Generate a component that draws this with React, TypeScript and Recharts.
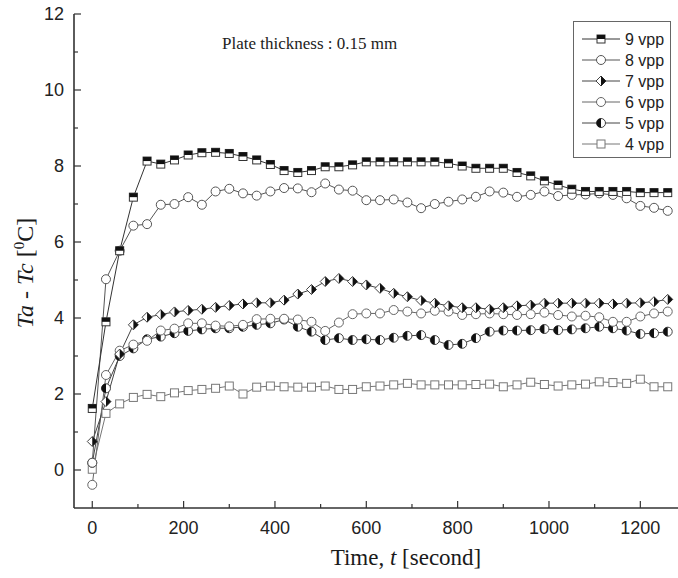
import React from "react";
import { LineChart, Line, XAxis, YAxis, Legend } from "recharts";

// time in seconds, one reading every 30 s
const times = [
  0, 30, 60, 90, 120, 150, 180, 210, 240, 270, 300, 330, 360, 390, 420, 450, 480, 510, 540, 570, 600, 630,
  660, 690, 720, 750, 780, 810, 840, 870, 900, 930, 960, 990, 1020, 1050, 1080, 1110, 1140, 1170, 1200,
  1230, 1260,
];

// Ta - Tc readings per drive voltage
const vpp9 = [
  1.62, 3.9, 5.77, 7.18, 8.13, 8.05, 8.16, 8.29, 8.35, 8.36, 8.33, 8.25, 8.16, 8.04, 7.88, 7.83, 7.88, 7.98,
  7.98, 8.03, 8.11, 8.11, 8.11, 8.11, 8.11, 8.11, 8.07, 8.0, 7.94, 7.94, 7.94, 7.83, 7.74, 7.61, 7.5, 7.39,
  7.33, 7.33, 7.33, 7.33, 7.3, 7.3, 7.3,
];
const vpp8 = [
  0.19, 5.02, 5.77, 6.43, 6.47, 6.98, 7.0, 7.18, 6.98, 7.33, 7.4, 7.28, 7.22, 7.33, 7.42, 7.41, 7.31, 7.54,
  7.38, 7.35, 7.1, 7.1, 7.12, 7.04, 6.89, 7.0, 7.06, 7.12, 7.19, 7.33, 7.3, 7.19, 7.24, 7.33, 7.21, 7.24,
  7.25, 7.28, 7.24, 7.15, 6.95, 6.9, 6.82,
];
const vpp7 = [
  0.75, 1.8, 3.05, 3.82, 4.02, 4.09, 4.16, 4.2, 4.23, 4.28, 4.33, 4.37, 4.4, 4.4, 4.47, 4.63, 4.75, 4.96,
  5.04, 4.96, 4.87, 4.78, 4.65, 4.56, 4.46, 4.39, 4.32, 4.27, 4.27, 4.23, 4.27, 4.32, 4.34, 4.39, 4.39, 4.39,
  4.39, 4.39, 4.37, 4.39, 4.4, 4.43, 4.49,
];
const vpp6 = [
  -0.39, 2.5, 3.14, 3.3, 3.4, 3.67, 3.72, 3.86, 3.86, 3.8, 3.78, 3.82, 3.97, 3.98, 3.98, 3.96, 3.9, 3.66,
  3.88, 4.1, 4.12, 4.12, 4.21, 4.17, 4.12, 4.19, 4.17, 4.08, 4.1, 4.12, 4.1, 4.08, 4.1, 4.14, 4.08, 4.04,
  4.06, 4.02, 3.9, 3.9, 4.04, 4.12, 4.17,
];
const vpp5 = [
  0.19, 2.15, 3.0, 3.2, 3.44, 3.51, 3.6, 3.66, 3.7, 3.73, 3.73, 3.77, 3.82, 3.86, 3.96, 3.77, 3.64, 3.42,
  3.47, 3.42, 3.44, 3.42, 3.48, 3.53, 3.55, 3.42, 3.29, 3.32, 3.47, 3.64, 3.67, 3.67, 3.68, 3.71, 3.68, 3.7,
  3.73, 3.77, 3.73, 3.67, 3.58, 3.6, 3.64,
];
const vpp4 = [
  0.02, 1.49, 1.74, 1.91, 1.99, 1.93, 2.03, 2.09, 2.12, 2.15, 2.21, 2.0, 2.18, 2.21, 2.19, 2.18, 2.18, 2.21,
  2.12, 2.12, 2.19, 2.21, 2.24, 2.28, 2.24, 2.24, 2.24, 2.24, 2.25, 2.26, 2.19, 2.24, 2.31, 2.25, 2.21, 2.24,
  2.26, 2.32, 2.3, 2.28, 2.39, 2.19, 2.19,
];

const xTicks = [0, 100, 200, 300, 400, 500, 600, 700, 800, 900, 1000, 1100, 1200];
const yTicks = [0, 1, 2, 3, 4, 5, 6, 7, 8, 9, 10, 11, 12];

type Shape = "halfSquare" | "circle" | "halfDiamond" | "halfCircle" | "square";

const series: { key: string; name: string; values: number[]; shape: Shape; color: string }[] = [
  { key: "v9", name: "9 vpp", values: vpp9, shape: "halfSquare", color: "#333" },
  { key: "v8", name: "8 vpp", values: vpp8, shape: "circle", color: "#555" },
  { key: "v7", name: "7 vpp", values: vpp7, shape: "halfDiamond", color: "#444" },
  { key: "v6", name: "6 vpp", values: vpp6, shape: "circle", color: "#666" },
  { key: "v5", name: "5 vpp", values: vpp5, shape: "halfCircle", color: "#444" },
  { key: "v4", name: "4 vpp", values: vpp4, shape: "square", color: "#777" },
];

const rows = times.map((t, i) => {
  const r: Record<string, number> = { t };
  series.forEach((s) => (r[s.key] = s.values[i]));
  return r;
});

const SANS = "'Liberation Sans', Arial, sans-serif";
const SERIF = "'Liberation Serif', 'Times New Roman', serif";

function Marker({ cx, cy, shape, color }: { cx: number; cy: number; shape: Shape; color: string }) {
  if (cx == null || cy == null || isNaN(cx) || isNaN(cy)) return null;
  const sw = 1;
  if (shape === "halfSquare") {
    const s = 4;
    return (
      <g>
        <rect x={cx - s} y={cy - s} width={2 * s} height={2 * s} fill="#fff" stroke={color} strokeWidth={sw} />
        <rect x={cx - s} y={cy - s} width={2 * s} height={s} fill="#111" />
      </g>
    );
  }
  if (shape === "square") {
    const s = 4;
    return <rect x={cx - s} y={cy - s} width={2 * s} height={2 * s} fill="#fff" stroke={color} strokeWidth={sw} />;
  }
  if (shape === "halfDiamond") {
    const r = 5;
    return (
      <g>
        <polygon
          points={`${cx},${cy - r} ${cx + r},${cy} ${cx},${cy + r} ${cx - r},${cy}`}
          fill="#fff"
          stroke={color}
          strokeWidth={sw}
        />
        <polygon points={`${cx},${cy - r} ${cx + r},${cy} ${cx},${cy + r}`} fill="#111" />
      </g>
    );
  }
  const r = 4.5;
  if (shape === "halfCircle") {
    return (
      <g>
        <circle cx={cx} cy={cy} r={r} fill="#fff" stroke={color} strokeWidth={sw} />
        <path d={`M${cx},${cy - r} A${r},${r} 0 0 0 ${cx},${cy + r} Z`} fill="#111" />
      </g>
    );
  }
  return <circle cx={cx} cy={cy} r={r} fill="#fff" stroke={color} strokeWidth={sw} />;
}

function XTick(props: any) {
  const { x, y, payload } = props;
  const v = payload.value;
  const major = v % 200 === 0;
  return (
    <g>
      <line x1={x} x2={x} y1={y} y2={y - (major ? 7 : 4)} stroke="#333" strokeWidth={1.2} />
      {major && (
        <text x={x} y={y + 26} textAnchor="middle" fontSize={18} fontFamily={SANS} fill="#222">
          {v}
        </text>
      )}
    </g>
  );
}

function YTick(props: any) {
  const { x, y, payload } = props;
  const v = payload.value;
  const major = v % 2 === 0;
  return (
    <g>
      <line x1={x} x2={x + (major ? 7 : 4)} y1={y} y2={y} stroke="#333" strokeWidth={1.2} />
      {major && (
        <text x={x - 10} y={y + 6} textAnchor="end" fontSize={18} fontFamily={SANS} fill="#222">
          {v}
        </text>
      )}
    </g>
  );
}

function XTitle(props: any) {
  const vb = props.viewBox;
  return (
    <text x={vb.x + vb.width / 2 + 26} y={vb.y + 57} textAnchor="middle" fontSize={23} fontFamily={SERIF} fill="#1a1a1a">
      Time, <tspan fontStyle="italic">t</tspan> [second]
    </text>
  );
}

function YTitle(props: any) {
  const vb = props.viewBox;
  const x = vb.x + 33;
  const y = vb.y + vb.height / 2 + 12;
  return (
    <text
      x={x}
      y={y}
      transform={`rotate(-90, ${x}, ${y})`}
      textAnchor="middle"
      fontSize={24}
      fontFamily={SERIF}
      fill="#1a1a1a"
      stroke="none"
    >
      <tspan fontStyle="italic" fill="#1a1a1a">Ta</tspan>
      <tspan fill="#1a1a1a"> - </tspan>
      <tspan fontStyle="italic" fill="#1a1a1a">Tc</tspan>
      <tspan fill="#1a1a1a"> [</tspan>
      <tspan fontSize={15} dy={-9} fill="#1a1a1a">
        0
      </tspan>
      <tspan dy={9} fill="#1a1a1a">C]</tspan>
    </text>
  );
}

function LegendBox() {
  return (
    <div style={{ border: "1px solid #666", background: "#fff", width: 98, height: 137, boxSizing: "border-box" }}>
      <svg width={96} height={135}>
        {series.map((s, i) => {
          const cy = 17 + 21 * i;
          return (
            <g key={s.key}>
              <line x1={8} x2={46} y1={cy} y2={cy} stroke={s.color} strokeWidth={1} />
              <Marker cx={27} cy={cy} shape={s.shape} color={s.color} />
              <text x={51} y={cy + 6} fontSize={16} fontFamily={SANS} fill="#222">
                {s.name}
              </text>
            </g>
          );
        })}
      </svg>
    </div>
  );
}

export default function App() {
  return (
    <div
      style={{
        position: "absolute",
        left: 0,
        top: 0,
        width: 678,
        height: 578,
        overflow: "hidden",
        background: "#fff",
      }}
    >
      <LineChart width={700} height={578} data={rows} margin={{ top: 14, right: 14, bottom: 0, left: 0 }}>
        <XAxis
          dataKey="t"
          type="number"
          domain={[-40, 1300]}
          allowDataOverflow
          ticks={xTicks}
          interval={0}
          height={70}
          tickSize={0}
          tickMargin={0}
          tick={<XTick />}
          tickLine={false}
          axisLine={{ stroke: "#333", strokeWidth: 1.6 }}
          label={{ content: <XTitle /> }}
        />
        <XAxis
          xAxisId="top"
          dataKey="t"
          type="number"
          orientation="top"
          domain={[-40, 1300]}
          allowDataOverflow
          height={0}
          tick={false}
          tickLine={false}
          axisLine={{ stroke: "#333", strokeWidth: 1.6 }}
        />
        <YAxis
          type="number"
          domain={[-1, 12]}
          allowDataOverflow
          ticks={yTicks}
          interval={0}
          width={74}
          tickSize={0}
          tickMargin={0}
          tick={<YTick />}
          tickLine={false}
          axisLine={{ stroke: "#333", strokeWidth: 1.6 }}
          label={{ content: <YTitle /> }}
        />
        <YAxis
          yAxisId="right"
          orientation="right"
          type="number"
          domain={[-1, 12]}
          width={0}
          tick={false}
          tickLine={false}
          axisLine={{ stroke: "#333", strokeWidth: 1.6 }}
        />
        <Legend
          layout="vertical"
          align="center"
          verticalAlign="middle"
          wrapperStyle={{ position: "absolute", left: 573, top: 21, width: 98 }}
          content={<LegendBox />}
        />
        {series
          .slice()
          .reverse()
          .map((s) => (
            <Line
              key={s.key}
              dataKey={s.key}
              name={s.name}
              type="linear"
              stroke={s.color}
              strokeWidth={1}
              isAnimationActive={false}
              dot={(p: any) => (
                <Marker key={`${s.key}-${p.index}`} cx={p.cx} cy={p.cy} shape={s.shape} color={s.color} />
              )}
            />
          ))}
      </LineChart>
      <div
        style={{
          position: "absolute",
          left: 222,
          top: 34,
          fontFamily: SERIF,
          fontSize: 17,
          color: "#222",
          whiteSpace: "nowrap",
        }}
      >
        Plate thickness : 0.15 mm
      </div>
    </div>
  );
}
